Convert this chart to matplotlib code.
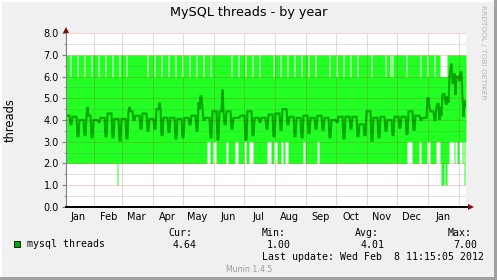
import numpy as np
import matplotlib
matplotlib.use('Agg')
import matplotlib.pyplot as plt
import matplotlib.dates as mdates
from matplotlib.ticker import MultipleLocator, FuncFormatter, NullFormatter
from matplotlib.patches import Rectangle
from datetime import datetime

W, H = 497, 280

# ---------------- data ----------------
start = datetime(2011, 1, 4, 11, 15)
end = datetime(2012, 2, 8, 11, 15)
n_days = 400

# average threads per week: Mon-Fri level and Sat-Sun level (weeks 0..57)
weekday_avg = [4.2, 4.15, 4.0, 4.2, 4.0, 4.1, 4.3, 4.05, 4.05, 4.4,
               4.2, 4.3, 4.05, 4.5, 4.1, 4.1, 4.05, 4.1, 4.2, 4.5,
               4.1, 4.4, 4.4, 4.4, 4.1, 4.2, 4.4, 4.1, 4.1, 4.25,
               4.3, 4.5, 4.15, 4.1, 4.2, 4.1, 4.2, 4.1, 4.0, 4.15,
               4.15, 4.15, 3.8, 4.4, 4.1, 4.15, 4.0, 4.15, 4.15, 4.4,
               4.2, 4.1, 4.4, 4.6, 5.1, 6.2, 6.1, 4.64]
weekend_avg = [3.8, 3.25, 3.3, 3.2, 3.9, 3.25, 3.2, 3.05, 3.15, 4.0,
               3.6, 3.5, 3.6, 3.3, 3.45, 3.15, 3.2, 3.8, 3.5, 4.0,
               3.2, 3.1, 3.8, 3.6, 4.1, 3.1, 3.3, 3.9, 3.6, 3.25,
               3.55, 3.8, 3.25, 3.2, 3.4, 3.6, 3.55, 3.2, 3.9, 3.15,
               3.6, 3.25, 3.3, 3.05, 3.2, 3.5, 3.3, 3.65, 3.35, 3.55,
               4.0, 4.8, 4.0, 4.2, 4.8, 5.3, 4.4, 4.64]
# single days that stand out from the weekly level
override_days = [21, 63, 93, 132, 134, 135, 156,
                 361, 362, 363, 371, 372, 373, 376, 377, 378, 379, 380,
                 383, 384, 385, 386, 387, 388, 389, 390, 391, 392, 393,
                 394, 395, 396, 397, 398, 399]
override_vals = [4.6, 4.6, 4.8, 4.8, 5.1, 5.1, 5.4,
                 5.0, 5.0, 4.6, 4.75, 4.75, 4.0, 5.2, 5.2, 5.2, 4.8, 4.7,
                 6.0, 6.4, 6.6, 5.7, 5.7, 6.15, 5.15, 6.0, 6.0, 6.0, 5.8,
                 6.2, 6.2, 5.0, 4.15, 4.9, 4.64]

max_level = 7.0
max_low_level = 6.0
max_low_days = [4, 11, 18, 25, 32, 39, 46, 53, 60, 81, 88, 95, 102, 109,
                116, 123, 130, 137, 144, 165, 172, 179, 186, 193, 207, 214,
                221, 228, 235, 242, 249, 263, 270, 277, 284, 291, 305, 319,
                324, 326, 340, 354, 361, 368, 374, 375, 376, 377, 378, 379,
                380]
min_level = 2.0
min_high_level = 3.0
min_high_days = [141, 142, 143, 147, 148, 149, 160, 161, 169, 170, 171, 178,
                 179, 183, 184, 185, 186, 201, 202, 203, 204, 208, 209, 210,
                 215, 216, 219, 220, 221, 237, 238, 251, 252, 341, 342, 343,
                 344, 345, 353, 354, 361, 362, 363, 370, 371, 372, 373, 383,
                 384, 385, 386, 387, 389, 390, 393, 394, 395, 397, 399]
min_low_level = 1.0
min_low_days = [51, 375, 376, 377, 379, 380, 398]

title = "MySQL threads - by year"
ylabel = "threads"
legend_name = "mysql threads"
stat_names = ["Cur:", "Min:", "Avg:", "Max:"]
stat_values = ["4.64", "1.00", "4.01", "7.00"]
last_update = "Last update: Wed Feb  8 11:15:05 2012"
footer = "Munin 1.4.5"
watermark = "RRDTOOL / TOBI OETIKER"

# ---------------- build series ----------------
days = np.arange(n_days)
avg = np.empty(n_days)
for d in days:
    wk = (d + 1) // 7
    avg[d] = weekend_avg[wk] if (d + 1) % 7 >= 5 else weekday_avg[wk]
avg[override_days] = override_vals
hi = np.full(n_days, max_level)
hi[max_low_days] = max_low_level
lo = np.full(n_days, min_level)
lo[min_high_days] = min_high_level
lo[min_low_days] = min_low_level

t0 = mdates.date2num(start)
x_edges = t0 + np.arange(n_days + 1)
x_mid = t0 + days + 0.5

# ---------------- figure ----------------
fig = plt.figure(figsize=(W / 100, H / 100), dpi=100, facecolor='#f0f0f0')
L, R, T, B = 66, 466, 33.3, 206.7
ax = fig.add_axes([L / W, (H - B) / H, (R - L) / W, (B - T) / H])
ax.set_facecolor('white')

light = '#22ff22'
dark = '#00a800'
ax.fill_between(x_edges, np.append(lo, lo[-1]), np.append(hi, hi[-1]),
                step='post', color=light, linewidth=0, antialiased=False,
                zorder=1)
ax.plot(x_mid, avg, color=dark, linewidth=1.5, zorder=2,
        solid_joinstyle='miter')

ax.set_xlim(mdates.date2num(start), mdates.date2num(end))
ax.set_ylim(0, 8)

# y axis
ax.yaxis.set_major_locator(MultipleLocator(1.0))
ax.yaxis.set_minor_locator(MultipleLocator(0.5))
ax.yaxis.set_major_formatter(FuncFormatter(lambda v, p: f"{v:.1f}"))
ax.tick_params(axis='y', which='major', direction='out', length=3,
               width=0.8, color='#808080', pad=2.2, labelsize=7,
               labelcolor='black')
ax.tick_params(axis='y', which='minor', direction='out', length=1.5,
               width=0.8, color='#a0a0a0')

# x axis: gridlines at month starts, labels mid-month
ax.xaxis.set_major_locator(mdates.MonthLocator(bymonthday=1))
ax.xaxis.set_major_formatter(NullFormatter())
ax.xaxis.set_minor_locator(mdates.MonthLocator(bymonthday=16))
ax.xaxis.set_minor_formatter(mdates.DateFormatter('%b'))
ax.tick_params(axis='x', which='major', length=0)
ax.tick_params(axis='x', which='minor', length=0, pad=3.5, labelsize=7,
               labelcolor='black')

ax.set_axisbelow(False)
ax.grid(True, which='major', axis='both', color='#c80000', alpha=0.35,
        linestyle=(0, (1, 1)), linewidth=0.72)
ax.grid(True, which='minor', axis='y', color='#707070', alpha=0.4,
        linestyle=(0, (1, 1)), linewidth=0.72)

for s in ax.spines.values():
    s.set_visible(False)

# axis lines with arrows
ax.plot([0, 0], [0, 1.02], transform=ax.transAxes, color='#808080',
        linewidth=0.8, clip_on=False, zorder=4)
ax.plot([0, 1.01], [0, 0], transform=ax.transAxes, color='black',
        linewidth=1.4, clip_on=False, zorder=4)
ax.plot([0], [1.02], marker='^', markersize=4, color='#7f1010',
        transform=ax.transAxes, clip_on=False, zorder=5, markeredgewidth=0)
ax.plot([1.012], [0], marker='>', markersize=4, color='#7f1010',
        transform=ax.transAxes, clip_on=False, zorder=5, markeredgewidth=0)

mono = 'DejaVu Sans Mono'
fs = 7.1
ax_leg = fig.add_axes([0, 0, 1, 1], facecolor='none')
ax_leg.set_xlim(0, W)
ax_leg.set_ylim(H, 0)
ax_leg.axis('off')

ax_leg.text(10.5, 120, ylabel, rotation=90, ha='center', va='center',
            fontsize=8.3)
ax_leg.text(249, 12.5, title, ha='center', va='center', fontsize=9.2)
ax_leg.text(483, 5, watermark, ha='center', va='top', rotation=270,
            fontsize=5.3, color='#b4b4b4')

ax_leg.add_patch(Rectangle((13.5, 240.5), 6.5, 6.5, facecolor='#00aa00',
                           edgecolor='black', linewidth=0.6))
ax_leg.text(27, 244, legend_name, family=mono, fontsize=fs, va='center')
for name, val, xn, xv in zip(stat_names, stat_values,
                             [168, 262, 355, 448], [173, 267, 361, 453]):
    ax_leg.text(xn, 233, name, family=mono, fontsize=fs, va='center')
    ax_leg.text(xv, 244.5, val, family=mono, fontsize=fs, va='center')
ax_leg.text(262, 257, last_update, family=mono, fontsize=fs, va='center')
ax_leg.text(249, 269, footer, fontsize=5.6, color='#999999',
            ha='center', va='center')

# frame: light top/left, dark bottom/right
ax_leg.add_patch(Rectangle((0, 0), W, 1.5, color='#ffffff', linewidth=0))
ax_leg.add_patch(Rectangle((0, 0), 1.5, H, color='#ffffff', linewidth=0))
ax_leg.add_patch(Rectangle((W - 3, 0), 3, H, color='#a0a0a0', linewidth=0))
ax_leg.add_patch(Rectangle((0, H - 3), W, 3, color='#a0a0a0', linewidth=0))

fig.savefig('out.png', dpi=100, facecolor=fig.get_facecolor())
